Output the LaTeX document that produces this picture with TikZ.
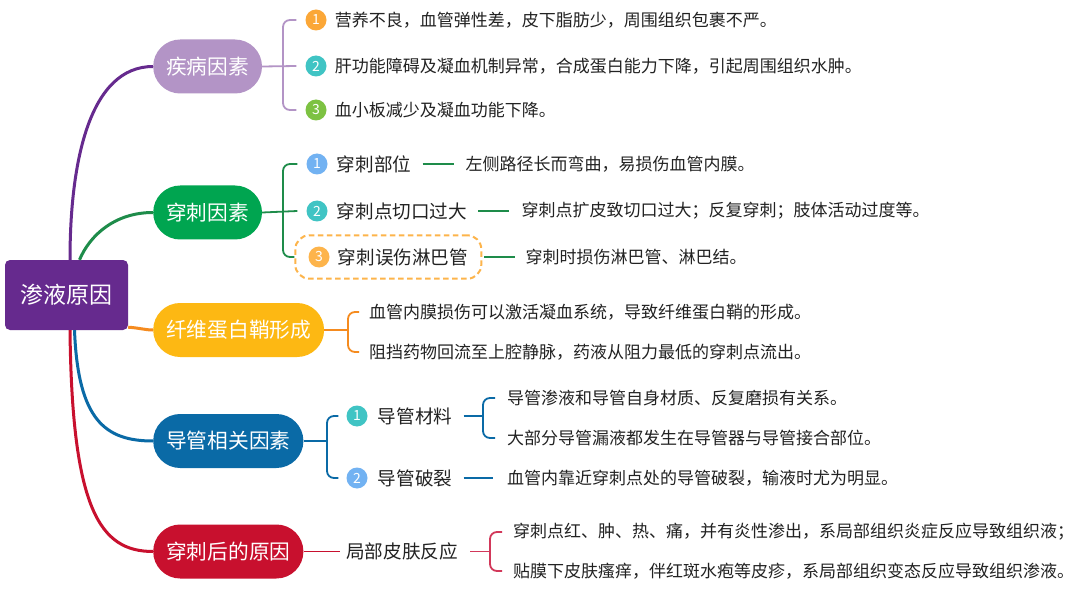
\documentclass[tikz,border=0pt]{standalone}
\usepackage{fontspec}
\setmainfont{Noto Sans CJK SC}
\usetikzlibrary{positioning,fit}

\definecolor{rootc}{HTML}{662A8E}
\definecolor{disc}{HTML}{B394C6}
\definecolor{punc}{HTML}{00A550}
\definecolor{punl}{HTML}{1E8C4A}
\definecolor{fibc}{HTML}{FDB813}
\definecolor{fibl}{HTML}{F58B1F}
\definecolor{catc}{HTML}{0A6AA6}
\definecolor{postc}{HTML}{C8102E}
\definecolor{postl}{HTML}{D2385A}
\definecolor{numo}{HTML}{FBA737}
\definecolor{numt}{HTML}{40C4C4}
\definecolor{numg}{HTML}{7DC242}
\definecolor{numb}{HTML}{72B2F2}
\definecolor{numy}{HTML}{FDB44B}
\definecolor{txt}{HTML}{222222}

\tikzset{
  rootbox/.style={fill=rootc, rounded corners=5pt, minimum width=123pt, minimum height=70pt,
    text=white, font=\fontsize{23}{23}\selectfont},
  topic/.style={fill=#1, rounded corners=27pt, minimum height=54pt, inner xsep=13pt,
    anchor=west, text=white, font=\fontsize{20.7}{20.7}\selectfont},
  num/.style={circle, fill=#1, minimum size=21pt, inner sep=0pt, text=white,
    font=\fontsize{14}{14}\selectfont},
  subitem/.style={anchor=west, inner sep=0pt, text=txt, font=\fontsize{18.6}{18.6}\selectfont},
  leaf/.style={anchor=west, inner sep=0pt, text=txt, font=\fontsize{17}{17}\selectfont},
  trunk/.style={draw=#1, line width=3pt},
  twig/.style={draw=#1, line width=1.8pt, rounded corners=7pt},
  lymphbox/.style={draw=numy, line width=2pt, dash pattern=on 5.5pt off 3.5pt,
    rounded corners=14pt, inner xsep=13pt, inner ysep=11pt},
}

\begin{document}
\begin{tikzpicture}[x=1pt, y=-1pt]
    \useasboundingbox (0,0) rectangle (1080,591);
    \fill[white] (0,0) rectangle (1080,591);

    \node[rootbox] (root) at (66.5,295) {渗液原因};

    \node[topic=disc] (dis) at (153,66.5) {疾病因素};
    \node[topic=punc] (pun) at (153,212.5) {穿刺因素};
    \node[topic=fibc] (fib) at (153,330) {纤维蛋白鞘形成};
    \node[topic=catc] (cat) at (153,441) {导管相关因素};
    \node[topic=postc] (post) at (153,551.5) {穿刺后的原因};

    \draw[trunk=rootc] ([xshift=3.5pt]root.north) .. controls (70,160) and (90,66.5) .. (dis.west);
    \draw[trunk=punl] ([xshift=13pt]root.north) .. controls (90,235) and (115,212.5) .. (pun.west);
    \draw[trunk=fibl] ([yshift=3pt]root.south east) .. controls (140,328) and (145,330) .. (fib.west);
    \draw[trunk=catc] ([xshift=8pt]root.south) .. controls (78,420) and (105,441) .. (cat.west);
    \draw[trunk=postc] ([xshift=3.5pt]root.south) .. controls (72,510) and (100,551.5) .. (post.west);

    \node[num=numo] (d1) at (316,20) {1};
    \node[num=numt] (d2) at (316,66) {2};
    \node[num=numg] (d3) at (316,110) {3};
    \node[leaf, right=8pt of d1] (dt1) {营养不良，血管弹性差，皮下脂肪少，周围组织包裹不严。};
    \node[leaf, right=8pt of d2] (dt2) {肝功能障碍及凝血机制异常，合成蛋白能力下降，引起周围组织水肿。};
    \node[leaf, right=8pt of d3] (dt3) {血小板减少及凝血功能下降。};
    \coordinate (dbr) at (283,66);
    \draw[twig=disc] ([xshift=-9pt]d1.west) -| (dbr) |- ([xshift=-9pt]d3.west);
    \draw[twig=disc] (dis.east) -- ([xshift=-9pt]d2.west);

    \node[num=numb] (p1) at (317,164) {1};
    \node[num=numt] (p2) at (317,211) {2};
    \node[num=numy] (p3) at (319,257) {3};
    \node[subitem, right=9pt of p1] (ps1) {穿刺部位};
    \node[subitem, right=9pt of p2] (ps2) {穿刺点切口过大};
    \node[subitem, right=8pt of p3] (ps3) {穿刺误伤淋巴管};
    \node[leaf, right=54pt of ps1] (pt1) {左侧路径长而弯曲，易损伤血管内膜。};
    \node[leaf, right=54pt of ps2] (pt2) {穿刺点扩皮致切口过大；反复穿刺；肢体活动过度等。};
    \node[leaf, right=57pt of ps3] (pt3) {穿刺时损伤淋巴管、淋巴结。};
    \node[lymphbox, fit=(p3)(ps3)] (pbox) {};
    \coordinate (pbr) at (283,211);
    \draw[twig=punl] ([xshift=-9pt]p1.west) -| (pbr) |- (pbox.west);
    \draw[twig=punl] (pun.east) -- ([xshift=-9pt]p2.west);
    \foreach \i in {1,2}
        \draw[twig=punl, line width=1.4pt, shorten <=11pt, shorten >=12pt] (ps\i.east) -- (pt\i.west);
    \draw[twig=punl, line width=1.4pt, shorten <=2pt, shorten >=10pt] (pbox.east) -- (pt3.west);

    \node[leaf] (ft1) at (369,312) {血管内膜损伤可以激活凝血系统，导致纤维蛋白鞘的形成。};
    \node[leaf] (ft2) at (369,352) {阻挡药物回流至上腔静脉，药液从阻力最低的穿刺点流出。};
    \coordinate (fbr) at (348,330);
    \draw[twig=fibl] ([xshift=-10pt]ft1.west) -| (fbr) |- ([xshift=-10pt]ft2.west);
    \draw[twig=fibl] (fib.east) -- (fbr);

    \node[num=numt] (c1) at (357,416) {1};
    \node[num=numb] (c2) at (357,478) {2};
    \node[subitem, right=10pt of c1] (cs1) {导管材料};
    \node[subitem, right=10pt of c2] (cs2) {导管破裂};
    \node[leaf] (ct1) at (507,398) {导管渗液和导管自身材质、反复磨损有关系。};
    \node[leaf] (ct2) at (507,438) {大部分导管漏液都发生在导管器与导管接合部位。};
    \node[leaf] (ct3) at (507,478) {血管内靠近穿刺点处的导管破裂，输液时尤为明显。};
    \coordinate (cbr) at (327,441);
    \coordinate (cbr2) at (483,416);
    \draw[twig=catc] ([xshift=-8pt]c1.west) -| (cbr) |- ([xshift=-8pt]c2.west);
    \draw[twig=catc] (cat.east) -- (cbr);
    \draw[twig=catc] ([xshift=-12pt]ct1.west) -| (cbr2) |- ([xshift=-12pt]ct2.west);
    \draw[twig=catc, shorten <=11pt] (cs1.east) -- (cbr2);
    \draw[twig=catc, line width=1.4pt, shorten <=11pt, shorten >=14pt] (cs2.east) -- (ct3.west);

    \node[subitem] (ks) at (346,551.5) {局部皮肤反应};
    \node[leaf] (kt1) at (513,532) {穿刺点红、肿、热、痛，并有炎性渗出，系局部组织炎症反应导致组织液；};
    \node[leaf] (kt2) at (513,571) {贴膜下皮肤瘙痒，伴红斑水疱等皮疹，系局部组织变态反应导致组织渗液。};
    \coordinate (kbr) at (490,551.5);
    \draw[twig=postc, shorten >=6pt] (post.east) -- (ks.west);
    \draw[twig=postl] ([xshift=-11pt]kt1.west) -| (kbr) |- ([xshift=-11pt]kt2.west);
    \draw[twig=postl, shorten <=12pt] (ks.east) -- (kbr);

\end{tikzpicture}
\end{document}
